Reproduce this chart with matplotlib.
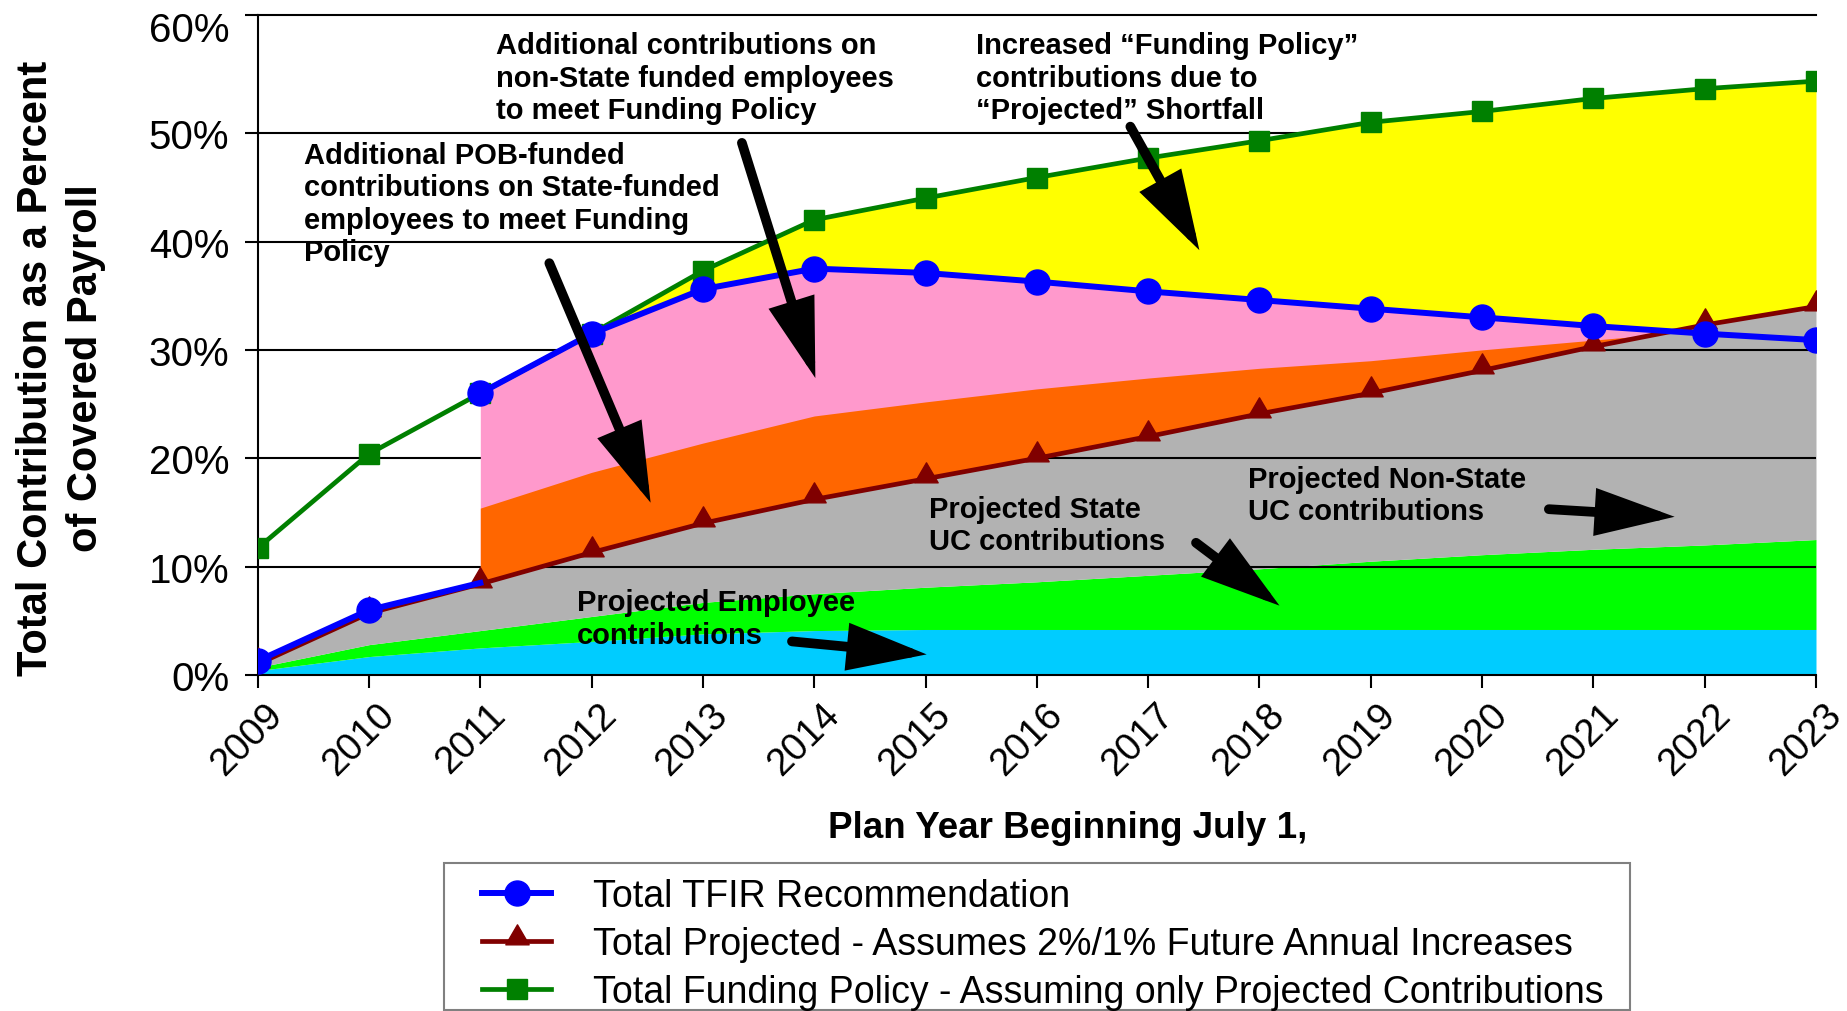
"""Total contribution as a percent of covered payroll, 2009-2023 projection."""
import matplotlib
matplotlib.use("Agg")
import matplotlib.pyplot as plt
import matplotlib.transforms as mtransforms
from matplotlib.patches import Rectangle
from matplotlib.path import Path
import numpy as np

plt.rcParams["font.family"] = ["Liberation Sans", "DejaVu Sans"]

# ---- data (percent of covered payroll) ----
years = list(range(2009, 2024))
# TFIR recommendation: 2009-2011 phase-in segment, then the recommendation from 2011 on
tfir_early_years = [2009, 2010, 2011]
tfir_early = [1.3, 6.0, 8.5]
tfir_years = years[2:]
tfir = [26.0, 31.5, 35.6, 37.5, 37.1, 36.3, 35.4, 34.6, 33.8, 33.0, 32.2, 31.5, 30.9]
projected = [1.0, 5.7, 8.4, 11.3, 14.0, 16.2, 18.1, 20.0, 22.0, 24.1, 26.0, 28.1, 30.3, 32.3, 34.0]
funding_policy = [11.7, 20.4, 26.0, 31.5, 37.3, 42.0, 44.0, 45.9, 47.7, 49.3, 51.0, 52.0, 53.2, 54.1, 54.8]
# stacked band tops
employee_top = [0.4, 1.7, 2.5, 3.1, 3.8, 4.1, 4.2, 4.2, 4.2, 4.2, 4.2, 4.2, 4.2, 4.2, 4.2]
state_uc_top = [0.7, 2.8, 4.1, 5.4, 6.7, 7.5, 8.1, 8.6, 9.2, 9.8, 10.5, 11.1, 11.6, 12.0, 12.5]
# top of POB-funded band, starts 2011
pob_top = [15.4, 18.7, 21.4, 23.9, 25.2, 26.4, 27.4, 28.3, 29.0, 30.0, 30.9, 31.8, 33.0]

ytick_vals = [0, 10, 20, 30, 40, 50, 60]
legend_labels = ["Total TFIR Recommendation",
                 "Total Projected - Assumes 2%/1% Future Annual Increases",
                 "Total Funding Policy - Assuming only Projected Contributions"]

W, H = 1847, 1012
fig = plt.figure(figsize=(W / 100, H / 100), dpi=100)
ax = fig.add_axes([257.7 / W, 1 - 676 / H, (1816 - 257.7) / W, (676 - 16) / H])

yr = np.array(years, dtype=float)
proj = np.array(projected)
tf = np.array(tfir)
fp = np.array(funding_policy)
pob = np.array(pob_top)
late = np.array(tfir_years, dtype=float)

# lower stacked bands (under the gridlines)
ax.fill_between(yr, 0, employee_top, color="#00CCFF", lw=0, zorder=0.5)
ax.fill_between(yr, employee_top, state_uc_top, color="#00FF00", lw=0, zorder=0.5)
ax.fill_between(yr, state_uc_top, proj, color="#B2B2B2", lw=0, zorder=0.5)

for v in ytick_vals[1:-1]:
    ax.axhline(v, color="black", lw=1.5, zorder=0.8)

# upper bands (over the gridlines)
ax.fill_between(yr[3:], proj[3:], fp[3:], color="#FFFF00", lw=0, zorder=1.0)
ax.fill_between(late, proj[2:], tf, where=tf > proj[2:], interpolate=True,
                color="#FF99CC", lw=0, zorder=1.1)
ax.fill_between(late, proj[2:], pob, where=pob > proj[2:],
                interpolate=True, color="#FF6600", lw=0, zorder=1.2)

tri = Path([(0, 1.0), (-0.7, -0.2), (0.7, -0.2), (0, 1.0)],
           [Path.MOVETO, Path.LINETO, Path.LINETO, Path.CLOSEPOLY])

l_fp, = ax.plot(yr, fp, color="#008000", lw=3.4, marker="s", ms=15, zorder=3)
l_pr, = ax.plot(yr, proj, color="#800000", lw=3.4, marker=tri, ms=24, zorder=4)
ax.plot(tfir_early_years, tfir_early, color="#0000FF", lw=4.3, marker="o", ms=18,
        markevery=[0, 1], zorder=5)
l_tf, = ax.plot(late, tf, color="#0000FF", lw=4.3, marker="o", ms=18, zorder=5)

ax.set_xlim(2009, 2023)
ax.set_ylim(0, 60.9)
ax.set_xticks(years)
ax.set_xticklabels([str(y) for y in years], rotation=45, ha="right", va="top",
                   rotation_mode="anchor", fontsize=27.5)
ax.set_yticks([0, 10, 20, 30, 40, 50, 60.9])
ax.set_yticklabels([f"{v}%" for v in ytick_vals], fontsize=29)
ax.tick_params(axis="both", direction="out", length=9.5, width=1.5, color="black")
ax.tick_params(axis="y", pad=11)
ax.tick_params(axis="x", pad=6)
for s in ["left", "bottom", "top"]:
    ax.spines[s].set_linewidth(1.5)
ax.spines["right"].set_visible(False)
ax.set_facecolor("white")

for lbl in ax.get_xticklabels():
    lbl.set_transform(lbl.get_transform() + mtransforms.ScaledTranslation(0.07, 0, fig.dpi_scale_trans))
top_lbl = ax.get_yticklabels()[-1]
top_lbl.set_transform(top_lbl.get_transform() + mtransforms.ScaledTranslation(0, -0.11, fig.dpi_scale_trans))

ax.set_xlabel("Plan Year Beginning July 1,", fontsize=26.5, fontweight="bold")
ax.xaxis.set_label_coords(0.5196, -0.205)
fig.text(61 / W, 1 - 368 / H, "Total Contribution as a Percent\nof Covered Payroll",
         rotation=90, ha="center", va="center", fontsize=30, fontweight="bold",
         linespacing=1.3)

# annotations
notes = [
    (2011.14, 59.4, "Additional contributions on\nnon-State funded employees\nto meet Funding Policy"),
    (2015.45, 59.4, "Increased \u201cFunding Policy\u201d\ncontributions due to\n\u201cProjected\u201d Shortfall"),
    (2009.42, 49.3, "Additional POB-funded\ncontributions on State-funded\nemployees to meet Funding\nPolicy"),
    (2015.03, 16.6, "Projected State\nUC contributions"),
    (2017.90, 19.4, "Projected Non-State\nUC contributions"),
    (2011.87, 8.0, "Projected Employee\ncontributions"),
]
for x, y, s in notes:
    ax.text(x, y, s, ha="left", va="top", fontsize=21, fontweight="bold",
            linespacing=1.2, zorder=6)

arrows = [
    ((2013.35, 49.1), (2014.01, 27.4)),
    ((2011.62, 38.0), (2012.53, 15.9)),
    ((2016.84, 50.6), (2017.46, 39.2)),
    ((2017.43, 12.2), (2018.18, 6.4)),
    ((2020.60, 15.3), (2021.73, 14.6)),
    ((2013.80, 3.1), (2015.01, 1.9)),
]
for tail, head in arrows:
    ax.annotate("", xy=head, xytext=tail, zorder=6,
                arrowprops=dict(arrowstyle="-|>,head_length=1.4,head_width=0.42",
                                mutation_scale=30, lw=7, color="black",
                                shrinkA=0, shrinkB=0, joinstyle="miter"))

fig.legend([l_tf, l_pr, l_fp], legend_labels, loc="center left",
           bbox_to_anchor=(482 / W, 1 - 945 / H), frameon=False, fontsize=27,
           handlelength=1.85, handletextpad=1.1, labelspacing=0.33,
           borderpad=0, borderaxespad=0, numpoints=1)
fig.add_artist(Rectangle((444 / W, 1 - 1011 / H), (1630 - 444) / W, (1011 - 864) / H,
                         transform=fig.transFigure, fill=False, edgecolor="#808080", lw=1.5))

fig.savefig("out.png", dpi=100)
